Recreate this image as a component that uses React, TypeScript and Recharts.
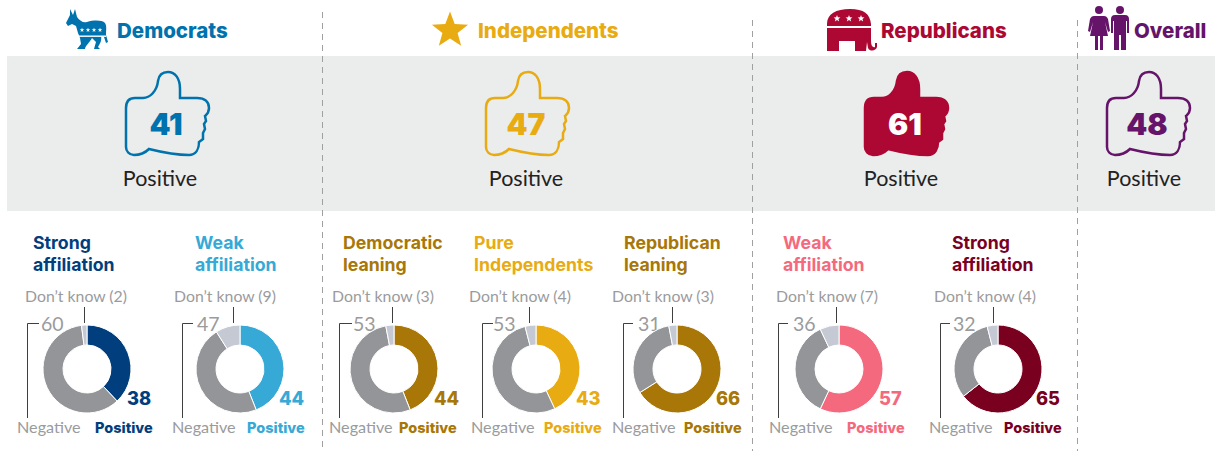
import { PieChart, Pie, Cell } from 'recharts';

// Values
const segmentNames = ['Positive', 'Negative', "Don't know"];
const titles = [
  ['Strong', 'affiliation'],
  ['Weak', 'affiliation'],
  ['Democratic', 'leaning'],
  ['Pure', 'Independents'],
  ['Republican', 'leaning'],
  ['Weak', 'affiliation'],
  ['Strong', 'affiliation'],
];
const positiveValues = [38, 44, 44, 43, 66, 57, 65];
const negativeValues = [60, 47, 53, 53, 31, 36, 32];
const dontKnowValues = [2, 9, 3, 4, 3, 7, 4];

const partyNames = ['Democrats', 'Independents', 'Republicans', 'Overall'];
const partyPositive = [41, 47, 61, 48];

// Layout and colours, one entry per donut
const donutLayout = [
  { color: '#013e7d', cx: 87, title: 33, dk: 76, dkLine: 84, lx: 27, lx2: 39, num: 41, neg: 17, pos: 95, val: 128 },
  { color: '#36a9d6', cx: 240, title: 195, dk: 225, dkLine: 233, lx: 182, lx2: 193, num: 197, neg: 172, pos: 247, val: 280 },
  { color: '#a87707', cx: 394, title: 343, dk: 383, dkLine: 392, lx: 339, lx2: 352, num: 353, neg: 329, pos: 399, val: 435 },
  { color: '#e8ab12', cx: 536, title: 474, dk: 520, dkLine: 529, lx: 482, lx2: 493, num: 493, neg: 471, pos: 544, val: 577 },
  { color: '#a87707', cx: 677, title: 624, dk: 663, dkLine: 672, lx: 623, lx2: 633, num: 638, neg: 612, pos: 684, val: 717 },
  { color: '#f4697d', cx: 839, title: 783, dk: 827, dkLine: 836, lx: 778, lx2: 788, num: 793, neg: 769, pos: 847, val: 880 },
  { color: '#7a001f', cx: 998, title: 952, dk: 985, dkLine: 993, lx: 940, lx2: 950, num: 953, neg: 929, pos: 1004, val: 1037 },
];
const partyLayout = [
  { color: '#0072ad', nameX: 117, thumbX: 125, labelX: 160, filled: false },
  { color: '#e8ab12', nameX: 478, thumbX: 485, labelX: 526, filled: false },
  { color: '#ad0733', nameX: 881, thumbX: 864, labelX: 901, filled: true },
  { color: '#651469', nameX: 1134, thumbX: 1106, labelX: 1144, filled: false },
];
const dividers = [
  { x: 322, top: 12 },
  { x: 752, top: 20 },
  { x: 1077, top: 20 },
];

const FONT = 'Lato, sans-serif';
const HEAVY = 'Inter, sans-serif';
const GRAY = '#939598';
const DK_GRAY = '#c5c9d3';
const LABEL_GRAY = '#9a9b9d';
const LEADER = '#3f3f3f';
const CY = 369;

const THUMB =
  'M1,37 Q1,27 10,27 L18,27 C25,27 32,20 33,10 C34,3 38,1 43,1 C50,1 55,7 55,18 L55,27 L72,27 C80,27 84,31 84,37 C84,42 81,44 80,45 L81,50 L79,53 L80,58 L78,62 L78,68 L74,71 C74,78 71,84 64,84 C50,84 40,82 24,78 C20,82 14,84 9,84 C4,84 1,80 1,76 Z';

function Star({ x, y, r, fill }: { x: number; y: number; r: number; fill: string }) {
  const pts: string[] = [];
  for (let i = 0; i < 10; i++) {
    const a = -Math.PI / 2 + (i * Math.PI) / 5;
    const rad = i % 2 === 0 ? r : r * 0.42;
    pts.push(`${x + rad * Math.cos(a)},${y + rad * Math.sin(a)}`);
  }
  return <polygon points={pts.join(' ')} fill={fill} />;
}

function Donkey() {
  const c = '#0072ad';
  return (
    <g>
      <path
        fill={c}
        d="M70,9 L73,15 L75,9 L77,17 C80,21 83,23 87,22 C94,20 102,20 105,23 C107,26 106,31 106,35 L108,42 L106,43 L104,37 L101,36 C102,40 100,44 98,47 L100,49 L94,49 L96,42 L92,38 C90,42 85,46 85,49 L77,49 L81,44 L80,38 L78,33 L76,26 L72,24 L68,26 L66,23 L70,15 Z"
      />
      <rect x="77" y="35.5" width="29" height="1.4" fill="#fff" />
      {[82, 88, 94, 100].map((x) => (
        <Star key={x} x={x} y={30} r={2.4} fill="#fff" />
      ))}
    </g>
  );
}

function Elephant() {
  const c = '#ad0733';
  return (
    <g>
      <path
        fill={c}
        d="M827,24 C827,14 836,9 850,9 C864,9 870,14 871,24 L871,41 C871,46 873,48 875,47 L875,43 L877,43 L877,47 C876,51 870,52 868,48 L867,42 L866,51 L855,51 L855,41 L839,41 L839,51 L827,51 Z"
      />
      <rect x="827" y="26" width="44" height="2" fill="#fff" />
      {[837, 849, 861].map((x) => (
        <Star key={x} x={x} y={18.5} r={3.6} fill="#fff" />
      ))}
    </g>
  );
}

function People() {
  const c = '#651469';
  return (
    <g fill={c}>
      <circle cx="1099" cy="10" r="4" />
      <path d="M1094,16 L1104,16 C1106,16 1107,17 1108,19 L1110,31 L1108,32 L1105,22 L1108,36 L1103,36 L1103,50 L1100,50 L1100,36 L1098,36 L1098,50 L1095,50 L1095,36 L1090,36 L1093,22 L1090,32 L1088,31 L1090,19 C1091,17 1092,16 1094,16 Z" />
      <circle cx="1120" cy="10" r="4" />
      <path d="M1115,15 L1125,15 C1128,15 1129,17 1129,19 L1129,33 L1127,33 L1127,21 L1126,21 L1126,50 L1121,50 L1121,35 L1119,35 L1119,50 L1114,50 L1114,21 L1113,21 L1113,33 L1111,33 L1111,19 C1111,17 1112,15 1115,15 Z" />
    </g>
  );
}

export default function App() {
  return (
    <div style={{ position: 'absolute', left: 0, top: 0, width: 1215, height: 451, background: '#fff' }}>
      <svg width={1215} height={451} style={{ position: 'absolute', left: 0, top: 0, fontFamily: FONT }}>
        <rect x={7} y={56} width={1208} height={155} fill="#ebecec" />
        {dividers.map((d) => (
          <line key={d.x} x1={d.x + 0.5} x2={d.x + 0.5} y1={d.top} y2={451} stroke="#a0a0a0" strokeWidth={1} strokeDasharray="6 5" />
        ))}

        <Donkey />
        <Star x={450} y={30.5} r={19} fill="#e8ab12" />
        <Elephant />
        <People />

        {partyLayout.map((p, i) => (
          <g key={partyNames[i]}>
            <text x={p.nameX} y={38} fontFamily={HEAVY} fontSize={20.5} fontWeight={800} fill={p.color}>
              {partyNames[i]}
            </text>
            <path
              d={THUMB}
              transform={`translate(${p.thumbX},71)`}
              fill={p.filled ? p.color : 'none'}
              stroke={p.color}
              strokeWidth={2.5}
            />
            <text
              x={p.thumbX + 41}
              y={135}
              textAnchor="middle"
              fontFamily={HEAVY}
              fontSize={30}
              fontWeight={900}
              fill={p.filled ? '#fff' : p.color}
            >
              {partyPositive[i]}
            </text>
            <text x={p.labelX} y={186} textAnchor="middle" fontSize={21.5} fill="#222">
              Positive
            </text>
          </g>
        ))}

        {donutLayout.map((d, i) => (
          <g key={i}>
            <text x={d.title} y={249} fontFamily={HEAVY} fontSize={17.7} fontWeight={700} fill={d.color}>
              {titles[i][0]}
            </text>
            <text x={d.title} y={271} fontFamily={HEAVY} fontSize={17.7} fontWeight={700} fill={d.color}>
              {titles[i][1]}
            </text>
            <text x={d.dk} y={302} textAnchor="middle" fontSize={15.8} fill={LABEL_GRAY}>
              {`Don’t know (${dontKnowValues[i]})`}
            </text>
            <line x1={d.dkLine + 0.5} x2={d.dkLine + 0.5} y1={307} y2={323} stroke={LEADER} strokeWidth={1} />
            <polyline
              points={`${d.lx2},323.5 ${d.lx + 0.5},323.5 ${d.lx + 0.5},418`}
              fill="none"
              stroke={LEADER}
              strokeWidth={1}
            />
            <text x={d.num} y={331} fontSize={19.5} fill={LABEL_GRAY}>
              {negativeValues[i]}
            </text>
            <text x={d.val - 1} y={405} fontFamily={HEAVY} fontSize={18.3} fontWeight={800} fill={d.color}>
              {positiveValues[i]}
            </text>
            <text x={d.neg} y={433} fontSize={16.2} fill={LABEL_GRAY}>
              Negative
            </text>
            <text x={d.pos} y={433} fontFamily={HEAVY} fontSize={14.5} fontWeight={800} fill={d.color}>
              Positive
            </text>
          </g>
        ))}
      </svg>

      <div style={{ position: 'absolute', left: 0, top: 0 }}>
        <PieChart width={1215} height={451} margin={{ top: 0, right: 0, bottom: 0, left: 0 }}>
          {donutLayout.map((d, i) => {
            const rows = [positiveValues[i], negativeValues[i], dontKnowValues[i]].map((value, k) => ({
              name: segmentNames[k],
              value,
            }));
            return (
              <Pie
                key={i}
                data={rows}
                dataKey="value"
                nameKey="name"
                cx={d.cx}
                cy={CY}
                innerRadius={24}
                outerRadius={44}
                startAngle={90}
                endAngle={-270}
                stroke="#fff"
                strokeWidth={1}
                isAnimationActive={false}
                label={false}
                labelLine={false}
              >
                <Cell fill={d.color} />
                <Cell fill={GRAY} />
                <Cell fill={DK_GRAY} />
              </Pie>
            );
          })}
        </PieChart>
      </div>
    </div>
  );
}
